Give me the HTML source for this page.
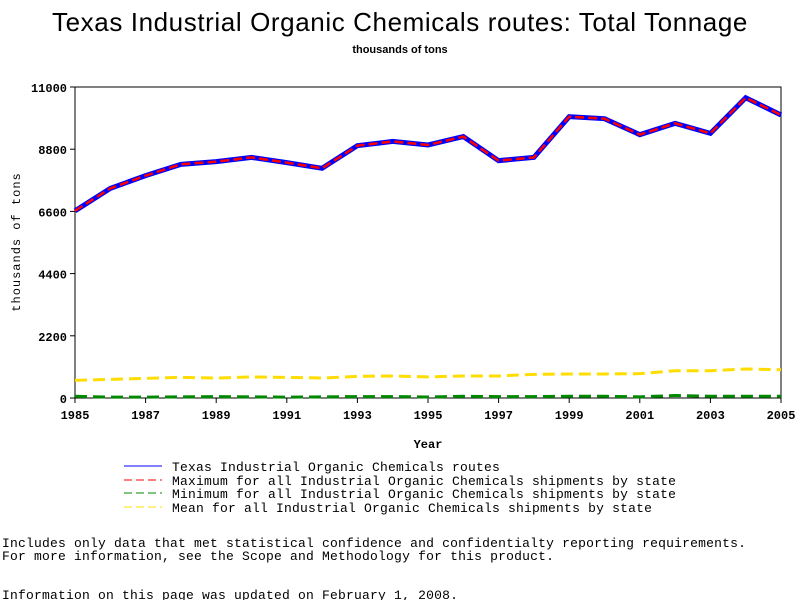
<!DOCTYPE html>
<html><head><meta charset="utf-8"><style>
body{margin:0;background:#fff;width:800px;height:600px;overflow:hidden;font-family:"Liberation Sans",sans-serif}
</style></head><body>
<svg width="800" height="600" xmlns="http://www.w3.org/2000/svg">
<text x="400" y="31" text-anchor="middle" font-size="26" letter-spacing="0.6">Texas Industrial Organic Chemicals routes: Total Tonnage</text>
<text x="400" y="53" text-anchor="middle" font-size="11" font-weight="bold">thousands of tons</text>
<rect x="75" y="87" width="706" height="311" fill="none" stroke="#000" stroke-width="1"/>
<g id="yticks"></g>
<g id="xticks"></g>
<text x="20" y="242" transform="rotate(-90 20 242)" text-anchor="middle" font-family="Liberation Mono,monospace" font-size="12" letter-spacing="1">thousands of tons</text>
<text x="428" y="448" text-anchor="middle" font-family="Liberation Mono,monospace" font-size="12" font-weight="bold">Year</text>
<g id="series"></g>
<g font-family="Liberation Mono,monospace" font-size="13" letter-spacing="0.2">
<g><line x1="124" y1="466" x2="162" y2="466" stroke="#00f"/><text x="172" y="471">Texas Industrial Organic Chemicals routes</text></g>
<g><line x1="124" y1="480" x2="162" y2="480" stroke="#f00" stroke-dasharray="8,4"/><text x="172" y="485">Maximum for all Industrial Organic Chemicals shipments by state</text></g>
<g><line x1="124" y1="493" x2="162" y2="493" stroke="#080" stroke-dasharray="8,4"/><text x="172" y="498">Minimum for all Industrial Organic Chemicals shipments by state</text></g>
<g><line x1="124" y1="507" x2="162" y2="507" stroke="#fd0" stroke-dasharray="8,4"/><text x="172" y="512">Mean for all Industrial Organic Chemicals shipments by state</text></g>
</g>
<g font-family="Liberation Mono,monospace" font-size="13" letter-spacing="0.2">
<text x="2" y="547">Includes only data that met statistical confidence and confidentialty reporting requirements.</text>
<text x="2" y="560">For more information, see the Scope and Methodology for this product.</text>
<text x="2" y="599">Information on this page was updated on February 1, 2008.</text>
</g>
</svg>
<script>
const years=[1985,1986,1987,1988,1989,1990,1991,1992,1993,1994,1995,1996,1997,1998,1999,2000,2001,2002,2003,2004,2005];
const texas=[6620,7415,7865,8265,8360,8510,8325,8125,8925,9075,8950,9245,8395,8510,9950,9880,9315,9715,9360,10620,10010];
const maximum=[6620,7415,7865,8265,8360,8510,8325,8125,8925,9075,8950,9245,8395,8510,9950,9880,9315,9715,9360,10620,10010];
const minimum=[60,30,30,40,50,40,30,40,50,50,35,60,50,50,60,60,40,90,60,60,60];
const mean=[625,660,695,730,705,745,730,705,765,780,745,780,780,835,850,850,860,965,965,1025,1000];
const yTicks=[0,2200,4400,6600,8800,11000];
const xTickLabels=[1985,1987,1989,1991,1993,1995,1997,1999,2001,2003,2005];
const NS="http://www.w3.org/2000/svg";
const X=y=>75+(y-1985)/20*706, Y=v=>398-v/11000*311;
function mk(t,a,p){const e=document.createElementNS(NS,t);for(const k in a)e.setAttribute(k,a[k]);p.appendChild(e);return e;}
const yg=document.getElementById('yticks');
yTicks.forEach(v=>{
 const l=mk('line',{x1:70,x2:75,y1:Y(v),y2:Y(v),stroke:'#000'},yg);
 
 
 const t=mk('text',{x:67,y:Y(v)+5,'text-anchor':'end','font-family':'Liberation Mono,monospace','font-size':'12','font-weight':'bold'},yg);
 t.textContent=v;
 
 
});
const xg=document.getElementById('xticks');
xTickLabels.forEach(v=>{
 const l=mk('line',{x1:X(v),x2:X(v),y1:398,y2:403,stroke:'#000'},xg);
 
 
 const t=mk('text',{x:X(v),y:419,'text-anchor':'middle','font-family':'Liberation Mono,monospace','font-size':'12','font-weight':'bold'},xg);
 t.textContent=v;
 
 
});
const sg=document.getElementById('series');
function line(vals,color,w,dash,name){
 const p=mk('polyline',{points:vals.map((v,i)=>X(years[i])+','+Y(v)).join(' '),fill:'none',stroke:color,'stroke-width':w,'stroke-dasharray':dash},sg);
 
 
}
line(mean,'#fd0',3,'12,6','mean-line');
line(minimum,'#080',3,'12,6','minimum-line');
line(texas,'#00f',5,'none','texas-line');
line(maximum,'#f00',2.5,'9,4','maximum-line');
</script>
</body></html>
